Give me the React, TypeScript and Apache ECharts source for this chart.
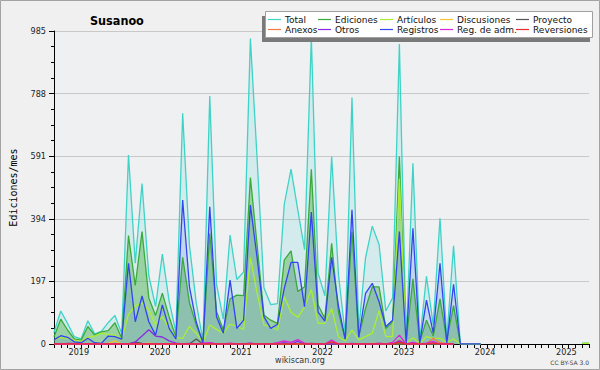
import React, { useEffect, useRef } from "react";
import * as echarts from "echarts";

// ---- categories: one point per month, Oct 2018 .. May 2025 ----
const START_YEAR = 2018;
const START_MONTH = 10;
const N_MONTHS = 80;
const months: string[] = [];
for (let i = 0; i < N_MONTHS; i++) {
  const m = START_MONTH - 1 + i;
  const y = START_YEAR + Math.floor(m / 12);
  const mm = (m % 12) + 1;
  months.push(`${y}-${String(mm).padStart(2, "0")}`);
}

const yTickValues = [0, 197, 394, 591, 788, 985];

// ---- series values (Oct 2018 .. Sep 2023) ----
const totalHead = [36,104,65,23,16,73,32,40,67,90,33,595,254,505,215,118,283,135,38,726,310,130,9,780,188,78,343,203,227,961,580,177,124,127,439,550,422,297,965,223,152,590,220,30,776,44,271,371,313,104,145,944,9,569,9,213,60,396,15,309];
const edicionesHead = [23,78,44,16,12,55,28,38,42,67,18,341,184,354,145,90,160,86,22,273,130,60,7,348,102,44,142,154,152,524,310,91,75,65,264,293,165,180,550,123,80,317,100,15,354,23,112,180,180,49,70,590,7,205,7,75,25,142,13,121];
const articulosHead = [13,20,18,12,8,21,25,34,30,28,15,93,120,128,107,62,86,50,20,18,55,34,5,60,46,34,62,57,45,272,159,60,55,44,149,100,84,117,172,65,65,112,23,10,44,13,23,34,105,23,23,520,2,20,2,23,18,18,5,16];
const discusionesHead = [0,0,0,0,0,0,0,0,2,10,0,0,0,0,3,0,0,0,0,0,0,0,0,0,0,0,0,0,0,0,0,0,0,0,0,2,0,0,0,0,0,0,0,0,0,0,0,2,0,0,0,0,0,0,0,0,0,0,0,0];
const proyectoHead = [0,0,0,0,0,0,0,0,0,0,0,0,6,2,0,0,0,0,0,0,0,16,0,0,0,0,0,0,0,0,0,0,0,0,0,0,0,0,2,0,0,0,0,0,0,0,0,0,0,0,0,0,0,0,0,0,0,0,0,0];
const anexosHead = [0,0,0,0,0,0,0,0,0,0,0,0,0,0,0,0,0,0,0,0,0,0,0,0,0,0,0,0,0,0,0,0,0,0,0,0,0,0,0,0,0,4,0,0,0,0,0,0,0,0,0,12,0,0,0,0,18,4,0,0];
const otrosHead = [0,0,2,2,0,0,0,0,0,0,0,0,6,25,45,25,22,10,3,0,2,0,0,3,0,0,0,0,0,3,0,0,0,0,4,0,8,0,0,0,0,0,0,0,2,0,0,0,0,0,0,10,0,0,0,0,3,0,0,0];
const registrosHead = [13,26,21,7,4,18,4,2,25,23,15,254,70,151,70,28,123,49,16,453,180,70,2,432,86,34,201,49,75,437,270,86,49,62,175,257,257,117,415,100,72,273,120,15,422,21,159,191,133,55,75,354,2,364,2,138,35,254,2,188];
const regAdmHead = [0,0,0,0,0,0,0,0,0,0,0,0,0,0,0,0,0,0,0,0,0,0,3,4,0,0,3,0,0,2,0,0,0,4,10,5,14,3,0,0,0,12,0,0,0,0,0,0,3,0,5,28,0,5,0,3,8,0,0,0];
const reversionesHead = [0,0,0,0,0,0,0,0,0,0,0,0,0,0,0,0,0,0,0,0,0,0,0,0,0,0,0,0,0,0,0,0,0,0,0,0,0,0,0,0,0,7,0,0,0,0,0,0,0,0,0,5,0,0,0,0,3,0,0,0];

// Oct 2023 .. May 2025
const zeroTail = [0, 0, 0, 0];
const gapTail = [null,null,null,null,null,null,null,null,null,null,null,null,null,null];
const lastTotal = [2, 2];
const lastEdiciones = [2, 2];
const lastArticulos = [2, 2];
const noneTail = [null,null,null,null,null,null,null,null,null,null,null,null,null,null,null,null,null,null,null,null];

const total = [...totalHead, ...zeroTail, ...gapTail, ...lastTotal];
const ediciones = [...edicionesHead, ...zeroTail, ...gapTail, ...lastEdiciones];
const articulos = [...articulosHead, ...zeroTail, ...gapTail, ...lastArticulos];
const registros = [...registrosHead, ...zeroTail, ...gapTail, null, null];
const discusiones = [...discusionesHead, ...noneTail];
const proyecto = [...proyectoHead, ...noneTail];
const anexos = [...anexosHead, ...noneTail];
const otros = [...otrosHead, ...noneTail];
const regAdm = [...regAdmHead, ...noneTail];
const reversiones = [...reversionesHead, ...noneTail];

const seriesNames = ["Total","Ediciones","Artículos","Discusiones","Proyecto","Anexos","Otros","Registros","Reg. de adm.","Reversiones"];
const seriesData = [total, ediciones, articulos, discusiones, proyecto, anexos, otros, registros, regAdm, reversiones];
const seriesColors = ["#3ed3c6","#3aaa3a","#aaee33","#f5c431","#555555","#f07b45","#8a2be2","#3344f2","#dd22dd","#ee2b2b"];
const areaColors: (string | null)[] = ["rgba(62,211,198,0.15)","rgba(60,170,50,0.38)",null,null,null,null,null,"rgba(51,68,242,0.12)",null,null];

// legend layout (text x of each column)
const legendTextX = [285, 335, 397, 457, 533];
const legendRowY = [19.5, 29.5];

const FONT = "'DejaVu Sans', sans-serif";
const NARROW = "'DejaVu Sans Condensed', Roboto, sans-serif";

export default function App() {
  const ref = useRef<HTMLDivElement>(null);
  useEffect(() => {
    if (!ref.current) return;
    const chart = echarts.init(ref.current, null, { renderer: "svg" });

    const legendGraphics: any[] = [
      { type: "rect", shape: { x: 262, y: 16, width: 328, height: 26 }, style: { fill: "#7a7a7a" }, z: 100 },
      { type: "rect", shape: { x: 265.5, y: 11.5, width: 327, height: 26 }, style: { fill: "#ffffff", stroke: "#a0a0a0", lineWidth: 1 }, z: 101 },
    ];
    seriesNames.forEach((name, k) => {
      const col = k % 5;
      const row = Math.floor(k / 5);
      const tx = legendTextX[col];
      const ty = legendRowY[row];
      legendGraphics.push({
        type: "line",
        shape: { x1: tx - 17, y1: ty, x2: tx - 4, y2: ty },
        style: { stroke: seriesColors[k], lineWidth: 1.2 },
        z: 102,
      });
      legendGraphics.push({
        type: "text",
        x: tx,
        y: ty,
        style: { text: name, fill: "#111", font: `9px ${FONT}`, textVerticalAlign: "middle", textAlign: "left" },
        z: 102,
      });
    });

    const option: any = {
      animation: false,
      backgroundColor: "#f0f0f0",
      title: {
        text: "Susanoo",
        left: 85,
        top: 9,
        textStyle: { fontSize: 12.5, fontWeight: "bold", fontFamily: NARROW, color: "#000" },
      },
      grid: { left: 46, right: 11, top: 31, bottom: 26, show: true, backgroundColor: "#eef0f2", borderWidth: 0 },
      xAxis: {
        type: "category",
        data: months,
        boundaryGap: false,
        axisLine: { lineStyle: { color: "#000", width: 1 } },
        axisTick: { show: true, interval: 0, length: 4, lineStyle: { color: "#000" } },
        axisLabel: {
          interval: (_i: number, v: string) => v.endsWith("-01"),
          formatter: (v: string) => v.slice(0, 4),
          fontSize: 9,
          fontFamily: NARROW,
          color: "#222",
          margin: 3,
          padding: [0, 0, 0, 9],
        },
        splitLine: { show: false },
      },
      yAxis: {
        type: "value",
        min: 0,
        max: 985,
        interval: 197,
        name: "Ediciones/mes",
        nameLocation: "middle",
        nameRotate: 90,
        nameGap: 36,
        nameTextStyle: { fontFamily: "'DejaVu Sans Mono', monospace", fontSize: 10, color: "#000" },
        axisLine: { show: true, lineStyle: { color: "#000", width: 1 } },
        axisTick: { show: true, length: 5, lineStyle: { color: "#000" } },
        minorTick: { show: true, splitNumber: 4, length: 3, lineStyle: { color: "#000" } },
        splitLine: { show: true, lineStyle: { color: "#c9c9c9", width: 1 } },
        axisLabel: {
          fontSize: 9,
          fontFamily: NARROW,
          color: "#222",
          margin: 8,
          customValues: yTickValues,
        },
      },
      series: seriesNames.map((name, k) => ({
        name,
        type: "line",
        data: seriesData[k],
        symbol: "none",
        connectNulls: false,
        lineStyle: { color: seriesColors[k], width: 1.3 },
        itemStyle: { color: seriesColors[k] },
        areaStyle: areaColors[k] ? { color: areaColors[k], opacity: 1 } : undefined,
        z: 2,
      })),
      graphic: [
        { type: "rect", shape: { x: 0.5, y: 0.5, width: 599, height: 369 }, style: { fill: "none", stroke: "#a3a3a3", lineWidth: 1 }, z: 110 },
        ...legendGraphics,
        {
          type: "text",
          x: 300,
          y: 360,
          style: { text: "wikiscan.org", fill: "#333", font: `8px ${FONT}`, textAlign: "center", textVerticalAlign: "middle" },
        },
        {
          type: "text",
          x: 589,
          y: 362,
          style: { text: "CC BY-SA 3.0", fill: "#444", font: `6px ${FONT}`, textAlign: "right", textVerticalAlign: "middle" },
        },
      ],
    };
    chart.setOption(option);
    return () => chart.dispose();
  }, []);
  return <div ref={ref} style={{ position: "fixed", left: 0, top: 0, width: 600, height: 370 }} />;
}
